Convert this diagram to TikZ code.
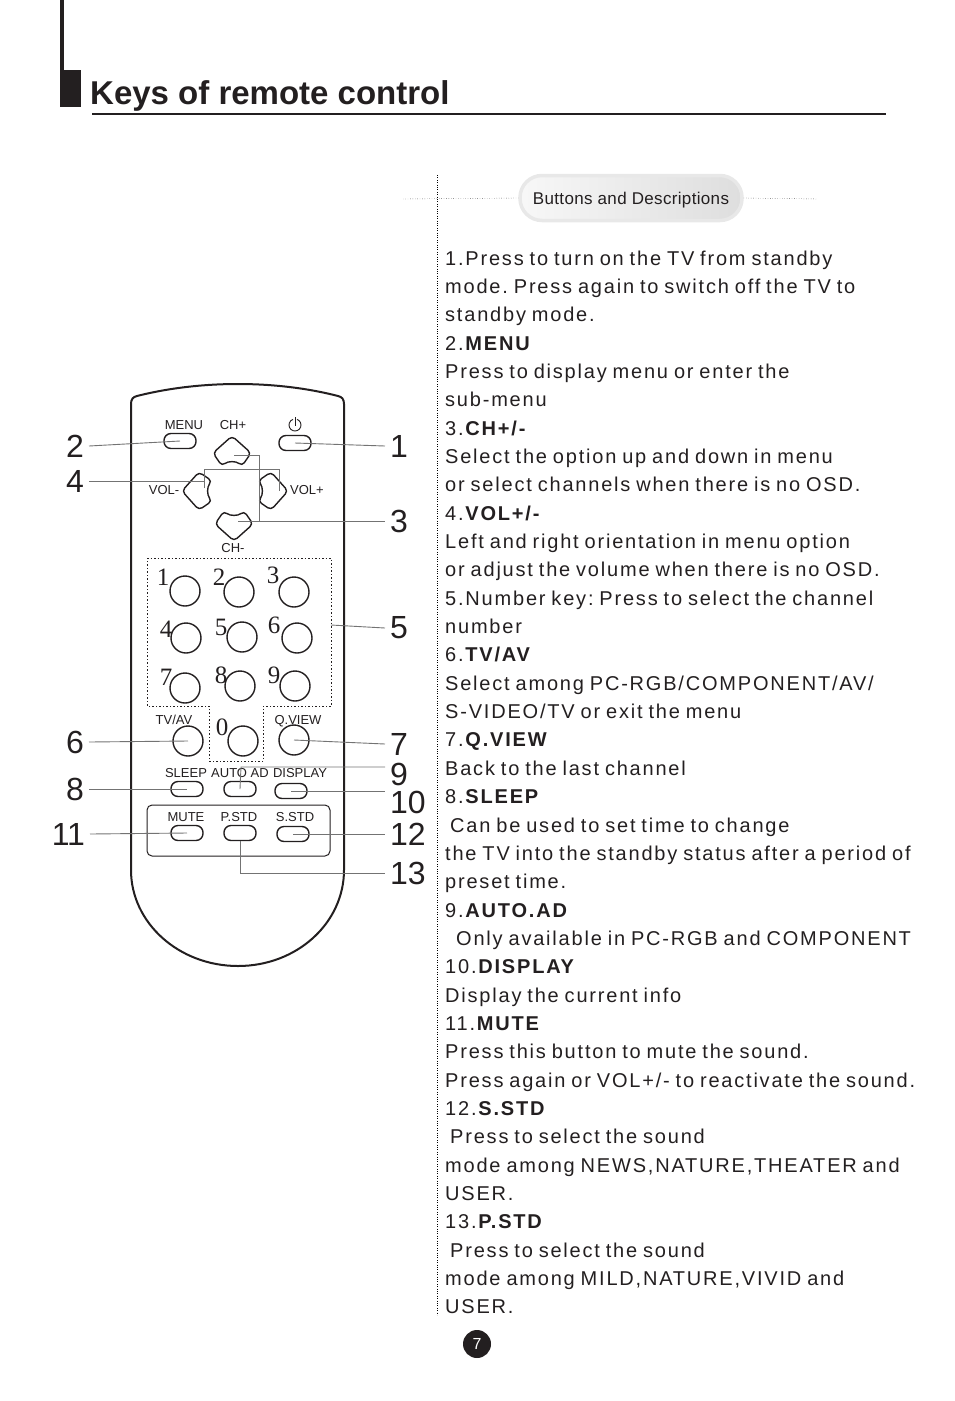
\documentclass[tikz,border=0pt]{standalone}
\usepackage{fontspec}
\setmainfont{Liberation Sans}
\newfontfamily\descfont[LetterSpace=9,WordSpace=0.8]{Liberation Sans}
\newfontfamily\keyfont{Liberation Serif}
\newfontfamily\tabfont[LetterSpace=2]{Liberation Sans}
\definecolor{ink}{HTML}{231F20}
\frenchspacing
\begin{document}
\begin{tikzpicture}[x=1pt,y=-1pt,
  btn/.style={draw=ink, line width=1.4},
  pill/.style={btn, rounded corners=7, minimum width=32, minimum height=15, inner sep=0},
  keycirc/.style={btn, circle, minimum size=30, inner sep=0},
  keydigit/.style={font=\keyfont\fontsize{25}{25}\selectfont, inner sep=0, text=ink, anchor=base},
  keylbl/.style={font=\fontsize{13}{13}\selectfont, inner sep=0, text=ink, anchor=base},
  callout/.style={font=\fontsize{32}{32}\selectfont, inner sep=1, outer sep=4, text=ink},
  leader/.style={draw=black!55, line width=0.9},
  descline/.style={font=\descfont\fontsize{20}{20}\selectfont, anchor=base west, inner sep=0, text=ink},
  dpad/.pic={\draw[btn, rounded corners=4] (0,-16) -- (19,1) -- (10,14) .. controls (4,9) and (-4,9) .. (-10,14) -- (-19,1) -- cycle;}]
\useasboundingbox (0,0) rectangle (954,1401);
% header
\fill[ink] (60,0) rectangle (64,107);
\fill[ink] (60,70) rectangle (81,107);
\node[anchor=base west, inner sep=0, text=ink, font=\bfseries\fontsize{33}{33}\selectfont] (title) at (90,104) {Keys of remote control};
\draw[ink, line width=2] (92,114) -- (886,114);
% tab and dotted guides
\node[rounded corners=22, minimum width=222, minimum height=45, draw=gray!18, line width=3.5, text depth=0pt,
  left color=gray!6, right color=gray!26, text=ink, font=\tabfont\fontsize{17}{17}\selectfont] (tab) at (631,198) {Buttons and Descriptions};
\draw[dotted] (437,175) -- (437,1315);
\draw[dotted] (403,199) -- (tab.west);
\draw[dotted] (tab.east) -- (818,199);
% remote body
\draw[ink, line width=2] (131,870) -- (131,404) .. controls (131,399) and (133,397) .. (137,396)
  .. controls (200,380) and (276,380) .. (338,396) .. controls (342,397) and (344,399) .. (344,404)
  -- (344,870) .. controls (344,923) and (297,966) .. (238,966) .. controls (179,966) and (131,923) .. (131,870) -- cycle;
% top keys
\node[keylbl] (lmenu) at (184,429) {MENU};
\node[keylbl] (lchup) at (233,429) {CH+};
\node[pill] (menu) at (180,441) {};
\node[pill] (power) at (295,443) {};
\draw[ink, line width=0.9] (297.05,419.36) arc[start angle=290, end angle=610, radius=6];
\draw[ink, line width=0.9] (295,417) -- (295,426);
\pic at (232,452) {dpad};
\pic[rotate=180] at (234,525) {dpad};
\pic[rotate=90] at (198,491) {dpad};
\pic[rotate=-90] at (272,491) {dpad};
\node[keylbl] (lvoldn) at (164,494) {VOL-};
\node[keylbl] (lvolup) at (307,494) {VOL+};
\node[keylbl] (lchdn) at (233,552) {CH-};
\coordinate (chup) at (234,455);
\coordinate (chdn) at (238,521);
\coordinate (voll) at (204,488);
\coordinate (volr) at (279,491);
\coordinate (b3) at (259,521);
% number keys
\draw[ink, line width=1, dash pattern=on 1.5pt off 2pt] (147,558) -- (331,558) -- (331,706) -- (263,706) -- (263,761)
  -- (209,761) -- (209,706) -- (147,706) -- cycle;
\coordinate (pad) at (331,625);
\foreach \k/\x/\y/\lx/\ly in {1/185/591/163/585, 2/239/592/219/585, 3/294/592/273/583,
  4/186/638/166/637, 5/242/637/221/635, 6/297/638/274/633,
  7/185/688/166/685, 8/240/686/221/683, 9/295/686/274/683, 0/243/741/222/735}
{
  \node[keycirc] (k\k) at (\x,\y) {};
  \node[keydigit] (d\k) at (\lx,\ly) {\k};
}
\node[keylbl] (ltvav) at (174,724) {TV/AV};
\node[keylbl] (lqview) at (298,724) {Q.VIEW};
\node[keycirc] (tvav) at (188,741) {};
\node[keycirc] (qview) at (294,740) {};
% lower keys
\node[keylbl] (lsleep) at (186,777) {SLEEP};
\node[keylbl] (lauto) at (240,777) {AUTO AD};
\node[keylbl] (ldisp) at (300,777) {DISPLAY};
\node[pill] (sleep) at (187,789) {};
\node[pill] (auto) at (240,789) {};
\node[pill] (display) at (291,791) {};
\draw[ink, line width=1, rounded corners=5] (147,805) rectangle (330,856);
\node[keylbl] (lmute) at (186,821) {MUTE};
\node[keylbl] (lpstd) at (239,821) {P.STD};
\node[keylbl] (lsstd) at (295,821) {S.STD};
\node[pill] (mute) at (187,833) {};
\node[pill] (pstd) at (240,833) {};
\node[pill] (sstd) at (293,834) {};
\coordinate (bend9) at (241,767);
% callout numbers
\node[callout, anchor=east] (n2) at (89,446) {2};
\node[callout, anchor=east] (n4) at (89,481) {4};
\node[callout, anchor=east] (n6) at (89,742) {6};
\node[callout, anchor=east] (n8) at (89,789) {8};
\node[callout, anchor=east] (n11) at (90,834) {11};
\node[callout, anchor=west] (n1) at (385,446) {1};
\node[callout, anchor=west] (n3) at (385,521) {3};
\node[callout, anchor=west] (n5) at (385,628) {5};
\node[callout, anchor=west] (n7) at (385,744) {7};
\node[callout, anchor=west] (n9) at (385,774) {9};
\node[callout, anchor=west] (n10) at (385,802) {10};
\node[callout, anchor=west] (n12) at (385,834) {12};
\node[callout, anchor=west] (n13) at (385,873) {13};
% leaders
\draw[leader] (n2.east) -- (menu.center);
\draw[leader] (power.center) -- (n1.west);
\draw[leader] (n4.east) -- (n4.east -| voll);
\draw[leader] (voll) -- ++(0,-19) -| (volr);
\draw[leader] (chup) -| (b3) |- (chdn);
\draw[leader] (b3) -- (n3.west);
\draw[leader] (pad) -- (n5.west);
\draw[leader] (n6.east) -- (tvav.center);
\draw[leader] (qview.center) -- (n7.west);
\draw[leader] (n8.east) -- (sleep.center);
\draw[leader] (auto.center) -- (bend9) -- (bend9 -| n9.west);
\draw[leader] (display.center) -- (display.center -| n10.west);
\draw[leader] (n11.east) -- (mute.center);
\draw[leader] (sstd.center) -- (n12.west);
\draw[leader] (pstd.south) |- (n13.west);
% descriptions
\foreach \t [count=\i] in {{1.Press to turn on the TV from standby},
  {mode. Press again to switch off the TV to}, {standby mode.}, {2.\textbf{MENU}},
  {Press to display menu or enter the}, {sub-menu}, {3.\textbf{CH+/-}},
  {Select the option up and down in menu}, {or select channels when there is no OSD.},
  {4.\textbf{VOL+/-}}, {Left and right orientation in menu option},
  {or adjust the volume when there is no OSD.}, {5.Number key: Press to select the channel},
  {number}, {6.\textbf{TV/AV}}, {Select among PC-RGB/COMPONENT/AV/},
  {S-VIDEO/TV or exit the menu}, {7.\textbf{Q.VIEW}}, {Back to the last channel},
  {8.\textbf{SLEEP}}, {\hspace*{5pt}Can be used to set time to change},
  {the TV into the standby status after a period of}, {preset time.}, {9.\textbf{AUTO.AD}},
  {\hspace*{11pt}Only available in PC-RGB and COMPONENT}, {10.\textbf{DISPLAY}},
  {Display the current info}, {11.\textbf{MUTE}}, {Press this button to mute the sound.},
  {Press again or VOL+/- to reactivate the sound.}, {12.\textbf{S.STD}},
  {\hspace*{5pt}Press to select the sound}, {mode among NEWS,NATURE,THEATER and}, {USER.},
  {13.\textbf{P.STD}}, {\hspace*{5pt}Press to select the sound},
  {mode among MILD,NATURE,VIVID and}, {USER.}}
  \node[descline] (l\i) at (445,265+28.35*\i-28.35) {\t};
% page number
\node[circle, fill=ink, minimum size=28, inner sep=0, text=white, font=\fontsize{16}{16}\selectfont] (page) at (477,1344) {7};
\end{tikzpicture}
\end{document}
